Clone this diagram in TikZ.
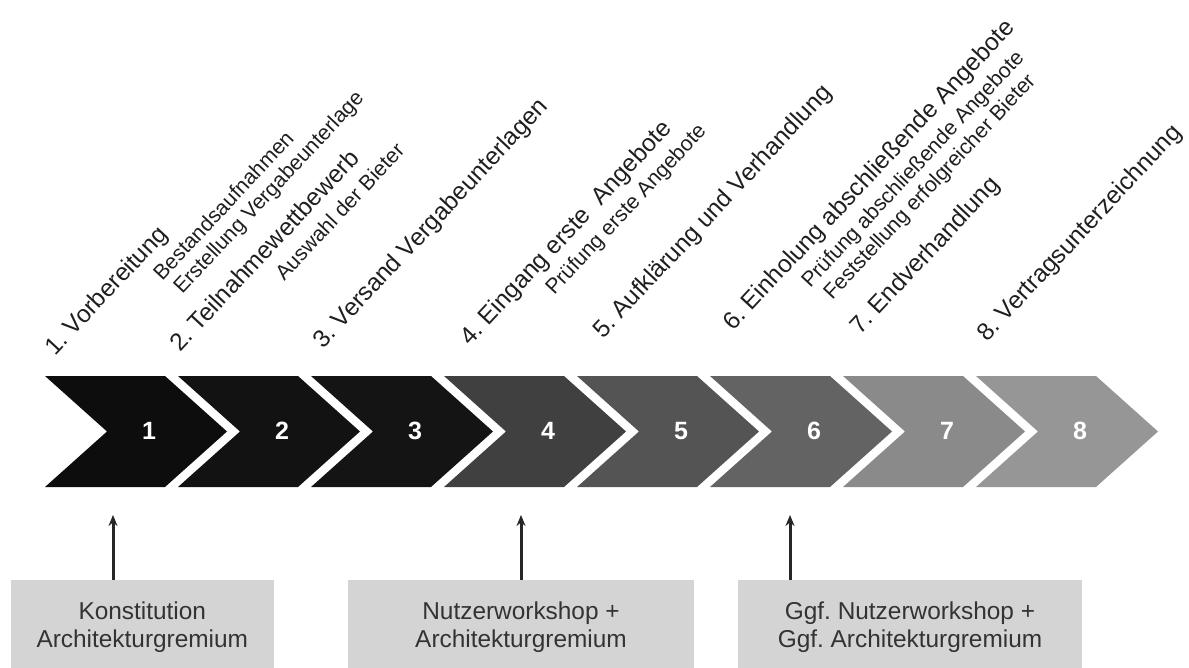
\documentclass[tikz,border=0pt]{standalone}
\usepackage{fontspec}
\setmainfont{Liberation Sans}
\usetikzlibrary{arrows.meta}
\frenchspacing

\tikzset{
    phase/.style={rotate=47, anchor=base west, inner sep=0pt, text=black!88, font=\fontsize{12.25}{14}\selectfont},
    task/.style={phase, font=\fontsize{10.6}{12}\selectfont},
    stepnum/.style={text=white, font=\fontsize{12.5}{15}\selectfont\bfseries},
    gremium/.style={fill=black!17, text=black!80, align=center, anchor=north, minimum height=47pt, font=\fontsize{12.2}{14}\selectfont},
    uparrow/.style={-{Stealth[length=5.5pt,width=4.5pt]}, line width=1.5pt, black!85}
}

\begin{document}
\begin{tikzpicture}[x=0.5pt, y=-0.5pt]
    \useasboundingbox (0,0) rectangle (1189,668);

    % Ablauf
    \foreach \i/\g in {1/95, 2/93, 3/92, 4/75, 5/67, 6/61, 7/46, 8/41} {
        \pgfmathsetmacro{\xa}{45+133*(\i-1)}
        \fill[black!\g] (\xa,376) -- ++(120,0) -- ++(62,55.5) -- ++(-62,55.5) -- ++(-120,0) -- ++(62,-55.5) -- cycle;
        \node[stepnum] (s\i) at (\xa+104,431) {\i};
    }

    % Beschriftung
    \node[phase] (l1) at (55,357) {1. Vorbereitung};
    \node[task] (t1a) at (162,282) {Bestandsaufnahmen};
    \node[task] (t1b) at (182,295) {Erstellung Vergabeunterlage};
    \node[phase] (l2) at (180,353) {2. Teilnahmewettbewerb};
    \node[task] (t2) at (284,282) {Auswahl der Bieter};
    \node[phase] (l3) at (323,350) {3. Versand Vergabeunterlagen};
    \node[phase] (l4) at (470,347) {4. Eingang erste\ \ Angebote};
    \node[task] (t4) at (554,296) {Prüfung erste Angebote};
    \node[phase] (l5) at (603,340) {5. Aufklärung und Verhandlung};
    \node[phase] (l6) at (733,332) {6. Einholung abschließende Angebote};
    \node[task] (t6a) at (810,289) {Prüfung abschließende Angebote};
    \node[task] (t6b) at (832,301) {Feststellung erfolgreicher Bieter};
    \node[phase] (l7) at (860,336) {7. Endverhandlung};
    \node[phase] (l8) at (987,343) {8. Vertragsunterzeichnung};

    % Gremien
    \node[gremium, minimum width=131.7pt] (b1) at (142.3,580) {Konstitution\\Architekturgremium};
    \node[gremium, minimum width=173pt] (b2) at (521,580) {Nutzerworkshop +\\Architekturgremium};
    \node[gremium, minimum width=172pt] (b3) at (910,580) {Ggf. Nutzerworkshop +\\Ggf. Architekturgremium};

    \coordinate (p1) at (113,515);
    \coordinate (p2) at (521,515);
    \coordinate (p3) at (790,515);
    \draw[uparrow] (p1 |- b1.north) -- (p1);
    \draw[uparrow] (p2 |- b2.north) -- (p2);
    \draw[uparrow] (p3 |- b3.north) -- (p3);
\end{tikzpicture}
\end{document}
